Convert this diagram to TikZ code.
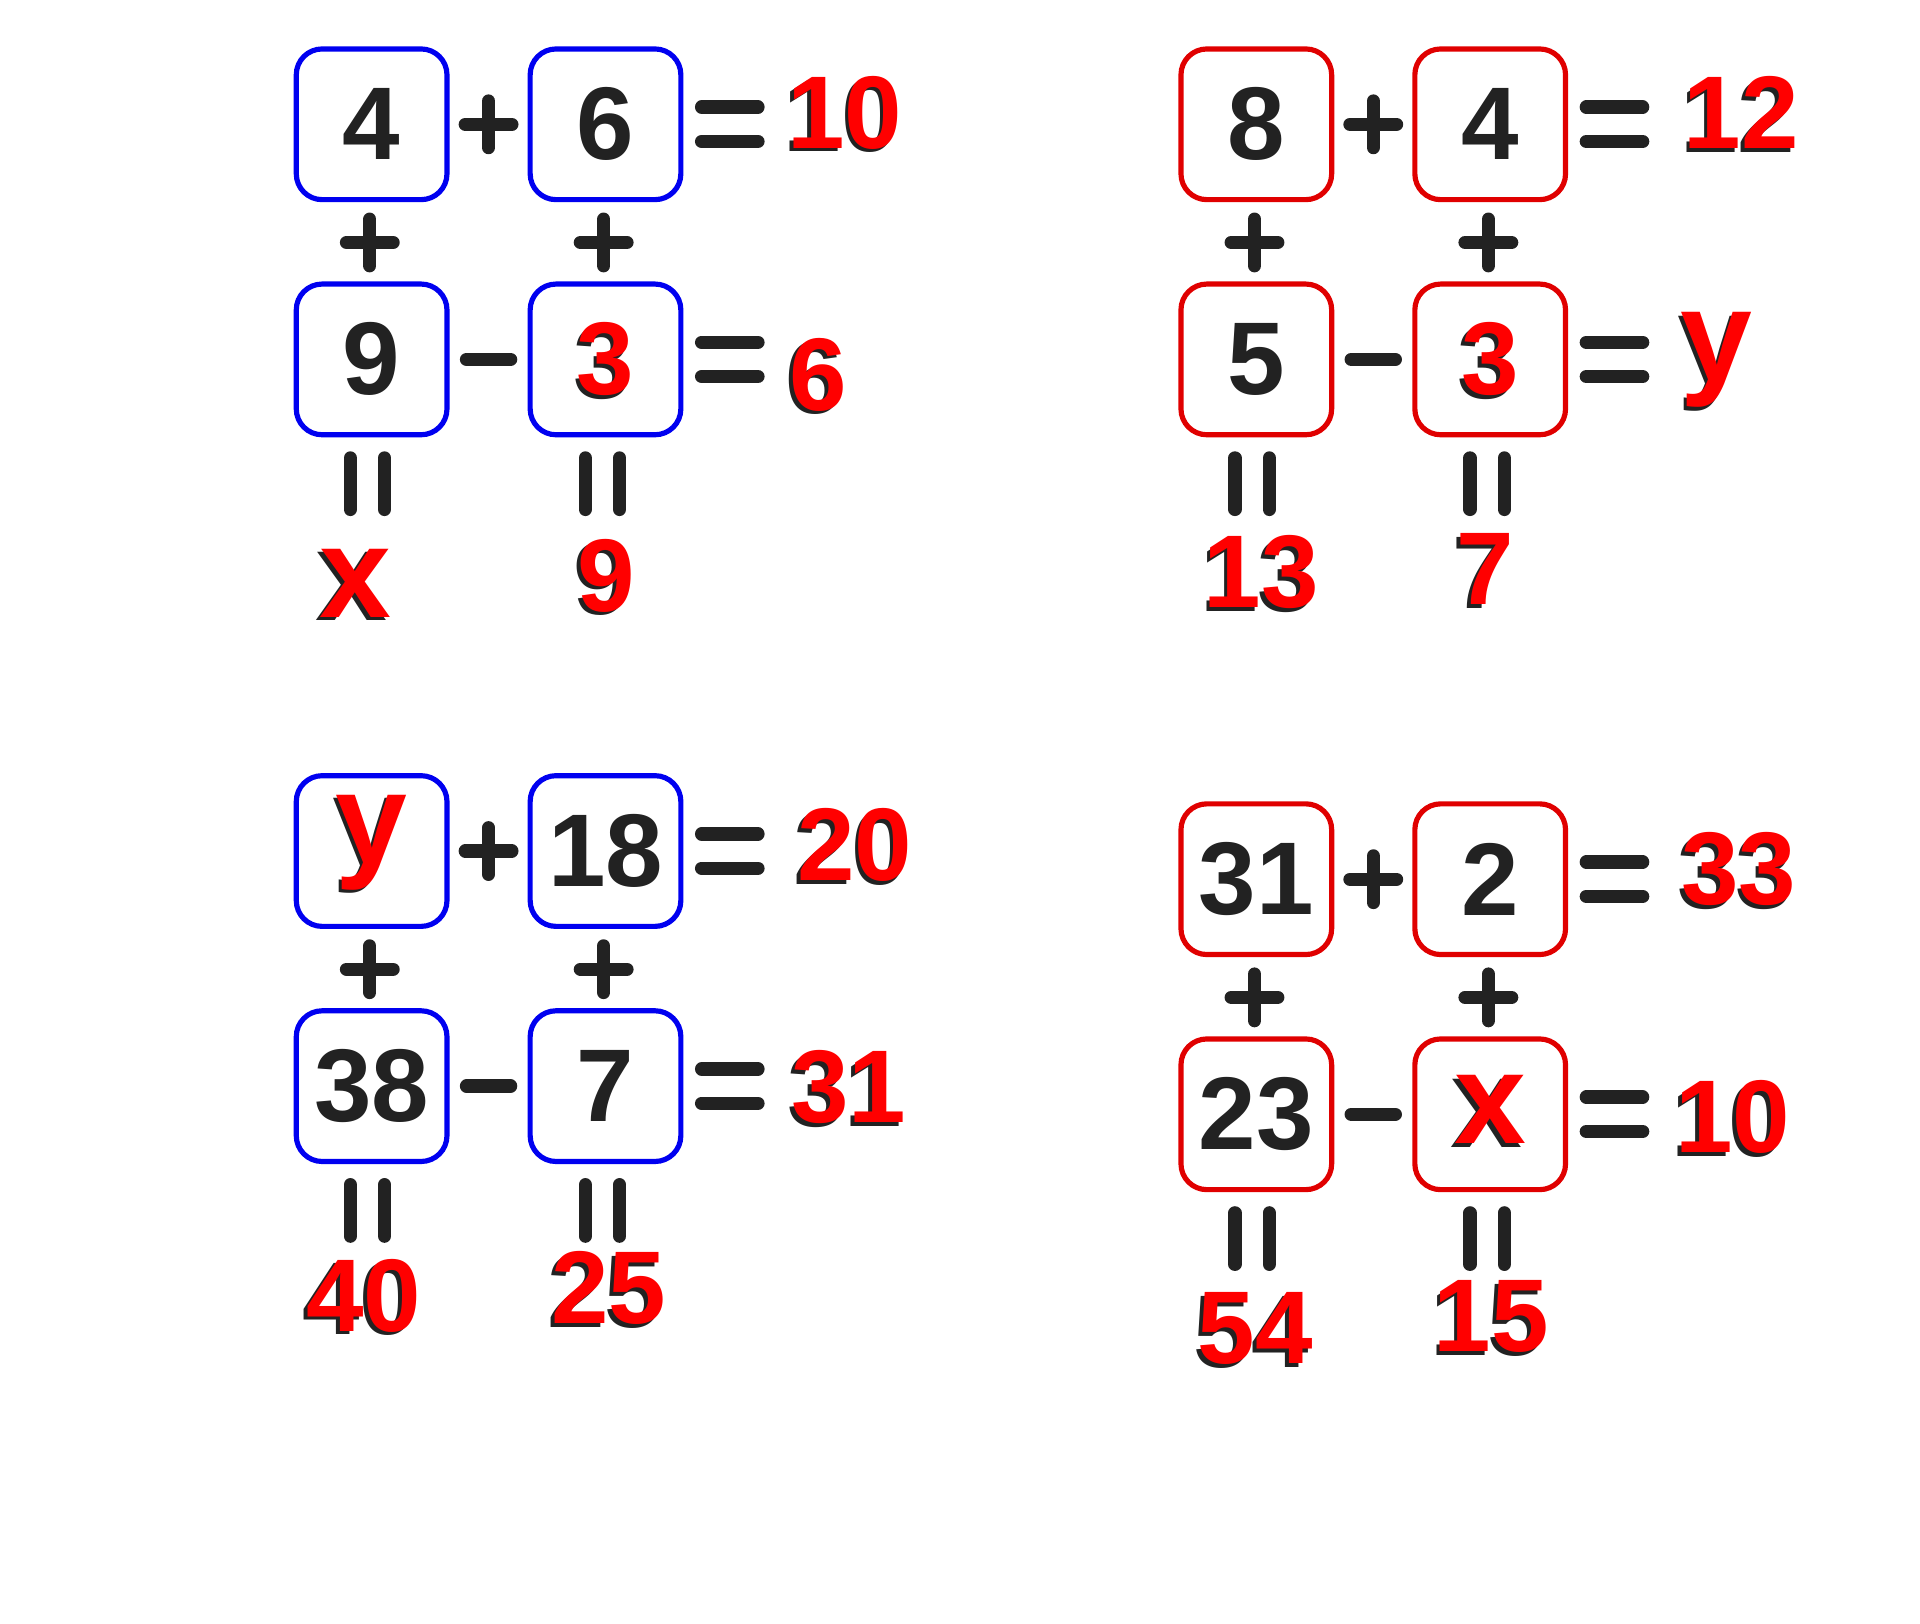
\documentclass[tikz,border=0pt]{standalone}
\usepackage{fontspec}
\setmainfont{Liberation Sans}
\usetikzlibrary{calc}
\definecolor{ink}{HTML}{222222}
\definecolor{boxblue}{HTML}{0000F0}
\definecolor{boxred}{HTML}{E00000}
\definecolor{mark}{HTML}{FF0000}
\newcommand\digitfont{\fontsize{24}{26}\selectfont\bfseries}
\newcommand\letterfont{\fontsize{30}{30}\selectfont}
\tikzset{
  cell/.style={draw, line width=1.2pt, rounded corners=6pt, minimum size=1.23cm,
    inner sep=0pt, font=\digitfont, text=ink},
  ans/.style={inner sep=0pt, font=\digitfont, text=mark},
  op/.style={draw=ink, line width=3.1pt, line cap=round},
  plusop/.pic={\draw[op] (-19,0) -- (19,0) (0,-19) -- (0,19);},
  minusop/.pic={\draw[op] (-18,0) -- (18,0);},
  equalop/.pic={\draw[op] (-23,-14) -- (23,-14) (-23,14) -- (23,14);},
  barsop/.pic={\draw[op] (-14,-21) -- (-14,21) (14,-21) -- (14,21);},
}
% red handwritten answer with a dark shadow
\newcommand\hand[3]{%
  \node[ans, text=ink] (#1s) at ($(#2)+(-3,3)$) {#3};
  \node[ans] (#1) at (#2) {#3};}
% the signs of one puzzle, placed from the centre of its first box
\newcommand\opgrid[2]{%
  \begin{scope}[shift={(#1,#2)}]
    \pic at (95.5,0) {plusop};
    \pic at (95.5,192) {minusop};
    \pic at (292.5,0) {equalop};
    \pic at (292.5,192) {equalop};
    \pic at (-1.5,96.5) {plusop};
    \pic at (189.5,96.5) {plusop};
    \pic at (-3.5,293.5) {barsop};
    \pic at (188.5,293.5) {barsop};
  \end{scope}}
\begin{document}
\begin{tikzpicture}[x=0.01cm, y=-0.01cm]
  \useasboundingbox (0,0) rectangle (1568,1326);

  % top left
  \node[cell, draw=boxblue] (tla) at (303.5,101.5) {4};
  \node[cell, draw=boxblue] (tlb) at (494.5,101.5) {6};
  \node[cell, draw=boxblue] (tlc) at (303.5,293.5) {9};
  \node[cell, draw=boxblue] (tld) at (494.5,293.5) {};
  \hand{tldt}{494.5,293.5}{3}
  \opgrid{303.5}{101.5}
  \hand{tlr1}{690,92}{10}
  \hand{tlr2}{668,306}{6}
  \hand{tlx}{290,476}{\letterfont x}
  \hand{tly}{495,470}{9}

  % top right
  \node[cell, draw=boxred] (tra) at (1026,101.5) {8};
  \node[cell, draw=boxred] (trb) at (1217,101.5) {4};
  \node[cell, draw=boxred] (trc) at (1026,293.5) {5};
  \node[cell, draw=boxred] (trd) at (1217,293.5) {};
  \hand{trdt}{1217,293.5}{3}
  \opgrid{1026}{101.5}
  \hand{trr1}{1422,92}{12}
  \hand{trr2}{1402,294}{\letterfont y}
  \hand{trx}{1030,467}{13}
  \hand{try}{1213,465}{7}

  % bottom left
  \node[cell, draw=boxblue] (bla) at (303.5,695) {};
  \hand{blat}{303.5,688}{\letterfont y}
  \node[cell, draw=boxblue] (blb) at (494.5,695) {18};
  \node[cell, draw=boxblue] (blc) at (303.5,887) {38};
  \node[cell, draw=boxblue] (bld) at (494.5,887) {7};
  \opgrid{303.5}{695}
  \hand{blr1}{698,690}{20}
  \hand{blr2}{693,888}{31}
  \hand{blx}{297,1058}{40}
  \hand{bly}{497,1052}{25}

  % bottom right
  \node[cell, draw=boxred] (bra) at (1026,718) {31};
  \node[cell, draw=boxred] (brb) at (1217,718) {2};
  \node[cell, draw=boxred] (brc) at (1026,910) {23};
  \node[cell, draw=boxred] (brd) at (1217,910) {};
  \hand{brdt}{1217,906}{\letterfont x}
  \opgrid{1026}{718}
  \hand{brr1}{1420,710}{33}
  \hand{brr2}{1415,912}{10}
  \hand{brx}{1025,1085}{54}
  \hand{bry}{1218,1075}{15}
\end{tikzpicture}
\end{document}
